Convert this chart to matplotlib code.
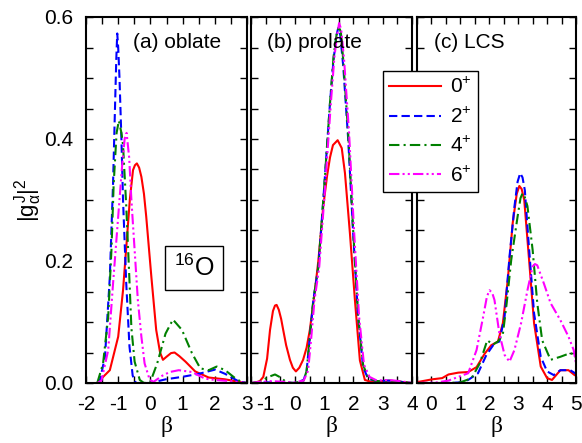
import matplotlib
matplotlib.use('Agg')
import matplotlib.pyplot as plt
from matplotlib.ticker import MultipleLocator
from matplotlib.lines import Line2D

plt.rcParams['font.family'] = ['Liberation Sans', 'DejaVu Sans']
plt.rcParams['mathtext.fontset'] = 'custom'
plt.rcParams['mathtext.rm'] = 'Liberation Sans'
plt.rcParams['mathtext.it'] = 'Liberation Sans'
plt.rcParams['mathtext.bf'] = 'Liberation Sans:bold'

# ---- data ----
labels = ['0$^{+}$', '2$^{+}$', '4$^{+}$', '6$^{+}$']

# (a) oblate
a0_x = [-1.65, -1.62, -1.26, -1.0, -0.85, -0.74, -0.64, -0.54, -0.48, -0.42, -0.35, -0.28, -0.2, -0.13,
        0.03, 0.18, 0.3, 0.39, 0.5, 0.64, 0.75, 0.9, 1.09, 1.39, 1.81, 2.32, 2.84, 3.0]
a0_y = [0, 0.002, 0.021, 0.076, 0.152, 0.229, 0.30, 0.349, 0.357, 0.360, 0.353, 0.338, 0.31, 0.273,
        0.174, 0.087, 0.05, 0.038, 0.043, 0.049, 0.05, 0.044, 0.035, 0.019, 0.009, 0.006, 0.001, 0]
a2_x = [-1.65, -1.57, -1.41, -1.26, -1.16, -1.1, -1.06, -1.03, -1.0, -0.96, -0.9, -0.85, -0.75, -0.65,
        -0.55, -0.45, 0.0, 0.47, 0.98, 1.5, 2.01, 2.32, 2.73, 3.0]
a2_y = [0, 0.004, 0.043, 0.174, 0.327, 0.45, 0.53, 0.573, 0.55, 0.50, 0.40, 0.30, 0.163, 0.06,
        0.012, 0.0, 0.0, 0.006, 0.010, 0.015, 0.022, 0.015, 0.003, 0]
a4_x = [-1.65, -1.47, -1.31, -1.21, -1.14, -1.05, -0.98, -0.9, -0.85, -0.75, -0.66, -0.59, -0.49,
        -0.33, -0.2, 0.0, 0.21, 0.47, 0.70, 0.98, 1.29, 1.55, 1.81, 2.06, 2.32, 2.63, 2.85, 3.0]
a4_y = [0, 0.032, 0.109, 0.218, 0.327, 0.41, 0.43, 0.41, 0.39, 0.29, 0.18, 0.09, 0.035,
        0.005, 0, 0.002, 0.032, 0.081, 0.104, 0.087, 0.049, 0.024, 0.021, 0.027, 0.021, 0.008, 0.001, 0]
a6_x = [-1.65, -1.52, -1.31, -1.16, -1.0, -0.88, -0.8, -0.74, -0.66, -0.59, -0.49, -0.39, -0.28,
        -0.18, -0.02, 0.1, 0.37, 0.6, 0.88, 1.29, 1.7, 2.0, 2.5, 2.8, 3.0]
a6_y = [0, 0.004, 0.054, 0.163, 0.273, 0.355, 0.40, 0.41, 0.37, 0.30, 0.218, 0.136, 0.076,
        0.032, 0.005, 0.002, 0.012, 0.018, 0.021, 0.018, 0.007, 0.005, 0.003, 0.001, 0]

# (b) prolate
b0_x = [-1.5, -1.42, -1.2, -1.08, -0.95, -0.85, -0.75, -0.68, -0.625, -0.55, -0.47, -0.4, -0.3, -0.17,
        -0.07, 0.034, 0.15, 0.28, 0.4, 0.51, 0.68, 0.8, 0.97, 1.1, 1.2, 1.3, 1.46, 1.6, 1.71, 1.88, 2.05,
        2.22, 2.39, 2.6, 3.24, 3.6, 4.0]
b0_y = [0, 0.0, 0.003, 0.01, 0.04, 0.087, 0.118, 0.127, 0.128, 0.12, 0.105, 0.087, 0.062, 0.038,
        0.025, 0.019, 0.025, 0.038, 0.058, 0.087, 0.15, 0.2, 0.29, 0.34, 0.37, 0.39, 0.398, 0.385, 0.344,
        0.245, 0.136, 0.037, 0.005, 0.002, 0.004, 0.002, 0]
b2_x = [-1.5, -1.0, -0.5, 0.0, 0.3, 0.4, 0.5, 0.63, 0.8, 0.97, 1.2, 1.32, 1.42, 1.48, 1.55, 1.65, 1.82,
        1.99, 2.16, 2.33, 2.5, 2.8, 3.2, 3.6, 4.0]
b2_y = [0, 0.001, 0.001, 0.0, 0.005, 0.02, 0.07, 0.136, 0.19, 0.30, 0.46, 0.53, 0.57, 0.582, 0.57, 0.52,
        0.40, 0.245, 0.108, 0.026, 0.007, 0.003, 0.004, 0.002, 0]
b4_x = [-1.5, -1.2, -0.9, -0.68, -0.45, -0.3, 0.0, 0.3, 0.4, 0.5, 0.63, 0.8, 0.97, 1.2, 1.32, 1.42,
        1.5, 1.57, 1.65, 1.82, 1.99, 2.16, 2.33, 2.5, 2.8, 3.2, 3.6, 4.0]
b4_y = [0, 0.002, 0.01, 0.014, 0.008, 0.001, 0, 0.004, 0.02, 0.07, 0.136, 0.19, 0.30, 0.46, 0.535,
        0.57, 0.585, 0.575, 0.53, 0.41, 0.25, 0.11, 0.03, 0.008, 0.003, 0.004, 0.002, 0]
b6_x = [-1.5, -1.2, -0.8, -0.4, 0.0, 0.3, 0.45, 0.55, 0.67, 0.83, 1.0, 1.23, 1.35, 1.44, 1.51, 1.58,
        1.68, 1.85, 2.02, 2.19, 2.36, 2.55, 2.8, 3.2, 3.6, 4.0]
b6_y = [0, 0.002, 0.003, 0.002, 0.001, 0.004, 0.02, 0.07, 0.136, 0.19, 0.30, 0.46, 0.535, 0.57, 0.59,
        0.58, 0.53, 0.41, 0.25, 0.11, 0.03, 0.01, 0.004, 0.005, 0.003, 0]

# (c) LCS
c0_x = [-0.5, -0.43, 0.02, 0.37, 0.59, 0.93, 1.27, 1.56, 1.84, 2.07, 2.3, 2.47, 2.64, 2.81, 2.95, 3.04,
        3.12, 3.21, 3.38, 3.55, 3.78, 4.0, 4.17, 4.46, 4.74, 4.95, 5.0]
c0_y = [0.002, 0.002, 0.006, 0.008, 0.014, 0.017, 0.018, 0.026, 0.048, 0.062, 0.068, 0.098, 0.169, 0.262,
        0.31, 0.323, 0.318, 0.30, 0.20, 0.098, 0.027, 0.008, 0.005, 0.021, 0.021, 0.013, 0.012]
c2_x = [-0.5, 0.5, 1.0, 1.27, 1.61, 1.9, 2.18, 2.35, 2.53, 2.7, 2.87, 2.98, 3.07, 3.15, 3.23, 3.38,
        3.55, 3.78, 4.0, 4.23, 4.46, 4.8, 4.97, 5.0]
c2_y = [0, 0, 0.001, 0.005, 0.016, 0.046, 0.065, 0.068, 0.109, 0.207, 0.289, 0.33, 0.344, 0.337, 0.316,
        0.218, 0.114, 0.043, 0.019, 0.013, 0.021, 0.021, 0.016, 0.015]
c4_x = [-0.5, 0.5, 1.0, 1.39, 1.67, 1.93, 2.13, 2.3, 2.47, 2.6, 2.76, 2.98, 3.08, 3.15, 3.22, 3.32,
        3.5, 3.66, 3.83, 4.12, 4.46, 4.8, 4.97, 5.0]
c4_y = [0, 0, 0.001, 0.008, 0.032, 0.070, 0.063, 0.068, 0.08, 0.13, 0.202, 0.273, 0.303, 0.311, 0.306,
        0.29, 0.218, 0.131, 0.07, 0.038, 0.043, 0.049, 0.046, 0.04]
c6_x = [-0.5, 0.2, 0.59, 0.93, 1.27, 1.56, 1.79, 1.92, 2.01, 2.1, 2.18, 2.35, 2.53, 2.7, 2.87, 3.1,
        3.32, 3.5, 3.58, 3.66, 3.89, 4.12, 4.46, 4.74, 4.92, 5.0]
c6_y = [0, 0.001, 0.004, 0.010, 0.016, 0.054, 0.109, 0.142, 0.152, 0.148, 0.136, 0.081, 0.046, 0.035,
        0.054, 0.098, 0.152, 0.191, 0.195, 0.193, 0.163, 0.131, 0.103, 0.076, 0.054, 0.032]

panels = [
    ('(a) oblate', (-2, 3), [(a0_x, a0_y), (a2_x, a2_y), (a4_x, a4_y), (a6_x, a6_y)]),
    ('(b) prolate', (-1.5, 4), [(b0_x, b0_y), (b2_x, b2_y), (b4_x, b4_y), (b6_x, b6_y)]),
    ('(c) LCS', (-0.5, 5), [(c0_x, c0_y), (c2_x, c2_y), (c4_x, c4_y), (c6_x, c6_y)]),
]

# ---- styles ----
colors = ['#ff0000', '#0000ff', '#008000', '#ff00ff']
styles = ['-', (0, (4, 2)), (0, (5, 2, 1, 2)), (0, (5, 1.5, 1, 1.5, 1, 1.5))]
lefts = [86, 251, 417]
widths = [161, 161, 159]

fig = plt.figure(figsize=(5.82, 4.43), dpi=100)
W, H = 582., 443.

axes = []
for k, (title, xlim, curves) in enumerate(panels):
    ax = fig.add_axes([lefts[k] / W, 60 / H, widths[k] / W, 366 / H])
    for (x, y), c, ls in zip(curves, colors, styles):
        ax.plot(x, y, color=c, linestyle=ls, lw=1.5)
    ax.set_xlim(*xlim)
    ax.set_ylim(0, 0.6)
    ax.xaxis.set_major_locator(MultipleLocator(1))
    ax.xaxis.set_minor_locator(MultipleLocator(0.5))
    ax.yaxis.set_major_locator(MultipleLocator(0.2))
    ax.yaxis.set_minor_locator(MultipleLocator(0.05))
    ax.tick_params(which='both', direction='in', top=True, right=True, length=5, width=1)
    ax.tick_params(axis='x', labelsize=15, pad=9)
    ax.tick_params(axis='y', labelsize=15, pad=9)
    ax.xaxis.set_major_formatter(matplotlib.ticker.FuncFormatter(lambda v, p: '%d' % round(v)))
    for s in ax.spines.values():
        s.set_linewidth(1.5)
    if k > 0:
        ax.set_yticklabels([])
    else:
        ax.yaxis.set_major_formatter(matplotlib.ticker.FormatStrFormatter('%.1f'))
    ax.set_xlabel('β', fontsize=17, family='Liberation Serif', labelpad=1)
    ax.text([0.29, 0.10, 0.11][k], 0.93, title, transform=ax.transAxes, fontsize=15, va='center')
    axes.append(ax)

axes[0].set_ylabel(r'$|g^{J}_{\alpha}|^{2}$', fontsize=16, labelpad=0)
axes[0].text(0.67, 0.314, r'$^{16}$O', transform=axes[0].transAxes, fontsize=18,
             ha='center', va='center',
             bbox=dict(boxstyle='square,pad=0.35', facecolor='white', edgecolor='black', lw=1))

handles = [Line2D([], [], color=c, linestyle=ls, lw=1.5) for c, ls in zip(colors, styles)]
leg = fig.legend(handles, labels, loc='upper left', bbox_to_anchor=(383 / W, 1 - 71 / H),
                 fontsize=15, frameon=True, fancybox=False, framealpha=1, edgecolor='black',
                 handlelength=2.5, handletextpad=0.4, labelspacing=0.45, borderpad=0.3,
                 borderaxespad=0)
leg.get_frame().set_linewidth(1)

fig.savefig('out.png', dpi=100)
